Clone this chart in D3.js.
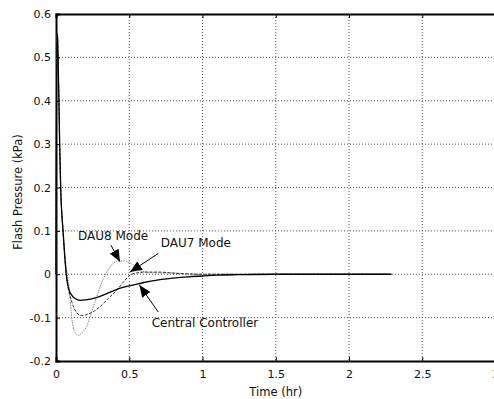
<!DOCTYPE html>
<html>
<head>
<meta charset="utf-8">
<script src="https://cdn.jsdelivr.net/npm/d3@7/dist/d3.min.js"></script>
<style>
  body { margin: 0; background: #fff; }
  svg { display: block; font-family: "DejaVu Sans", sans-serif; }
</style>
</head>
<body>
<svg width="494" height="399"></svg>
<script>

// Data (time in hr, pressure in kPa)
var dau8T = [0, 0.006, 0.01, 0.014, 0.02, 0.025, 0.032, 0.048, 0.065, 0.077, 0.086, 0.096, 0.107, 0.123, 0.14, 0.152, 0.17, 0.19, 0.21, 0.23, 0.255, 0.28, 0.3, 0.325, 0.346, 0.37, 0.39, 0.42, 0.46, 0.505, 0.53, 0.55, 0.573, 0.6, 0.64, 0.7, 0.8, 0.85, 0.9, 2.29];
var dau8V = [0, 0.555, 0.55, 0.5, 0.4, 0.3, 0.2, 0.1, 0.03, 0, -0.02, -0.055, -0.098, -0.129, -0.139, -0.141, -0.137, -0.13, -0.12, -0.1, -0.075, -0.05, -0.029, -0.01, 0.005, 0.017, 0.025, 0.03, 0.031, 0.026, 0.021, 0.015, 0.009, 0.006, 0.004, 0.003, 0.003, 0.002, 0, 0];

var dau7T = [0, 0.006, 0.01, 0.014, 0.02, 0.025, 0.032, 0.048, 0.06, 0.07, 0.085, 0.1, 0.12, 0.14, 0.16, 0.175, 0.2, 0.25, 0.3, 0.35, 0.414, 0.46, 0.505, 0.55, 0.62, 0.7, 0.755, 0.82, 0.9, 1.0, 2.29];
var dau7V = [0, 0.555, 0.55, 0.5, 0.4, 0.3, 0.2, 0.1, 0.04, 0, -0.035, -0.055, -0.075, -0.088, -0.094, -0.095, -0.094, -0.087, -0.075, -0.058, -0.037, -0.018, -0.002, 0.003, 0.005, 0.005, 0.004, 0.002, 0.001, 0, 0];

var centralT = [0, 0.006, 0.01, 0.014, 0.02, 0.025, 0.032, 0.048, 0.06, 0.07, 0.085, 0.107, 0.13, 0.164, 0.2, 0.25, 0.3, 0.35, 0.4, 0.45, 0.526, 0.6, 0.7, 0.8, 0.9, 1.0, 1.1, 1.25, 1.5, 2.29];
var centralV = [0, 0.555, 0.55, 0.5, 0.4, 0.3, 0.2, 0.1, 0.04, 0, -0.032, -0.048, -0.056, -0.06, -0.059, -0.056, -0.051, -0.044, -0.037, -0.031, -0.025, -0.019, -0.013, -0.009, -0.006, -0.004, -0.002, -0.001, 0, 0];

var xTicks = [0, 0.5, 1, 1.5, 2, 2.5, 3];
var xTickLabels = ["0", "0.5", "1", "1.5", "2", "2.5", "3"];
var yTicks = [-0.2, -0.1, 0, 0.1, 0.2, 0.3, 0.4, 0.5, 0.6];
var yTickLabels = ["-0.2", "-0.1", "0", "0.1", "0.2", "0.3", "0.4", "0.5", "0.6"];

// annotations: label position and arrow tail -> tip, in data units
var notes = [
  { text: "DAU8 Mode", tx: 0.15, ty: 0.078, x1: 0.375, y1: 0.067, x2: 0.437, y2: 0.029 },
  { text: "DAU7 Mode", tx: 0.715, ty: 0.062, x1: 0.698, y1: 0.048, x2: 0.505, y2: 0.005 },
  { text: "Central Controller", tx: 0.653, ty: -0.122, x1: 0.698, y1: -0.087, x2: 0.569, y2: -0.025 }
];

var svg = d3.select("svg");
var margin = { left: 56, top: 14 };
var w = 439.5, h = 347;

var x = d3.scaleLinear().domain([0, 3]).range([0, w]);
var y = d3.scaleLinear().domain([-0.2, 0.6]).range([h, 0]);

var g = svg.append("g").attr("transform", "translate(" + margin.left + "," + margin.top + ")");

// grid
g.append("g").selectAll("line").data(xTicks.slice(1)).enter().append("line")
  .attr("x1", function (d) { return x(d); }).attr("x2", function (d) { return x(d); })
  .attr("y1", 0).attr("y2", h)
  .style("stroke", "#555").style("stroke-dasharray", "1,2");
g.append("g").selectAll("line").data(yTicks.slice(1, -1)).enter().append("line")
  .attr("x1", 0).attr("x2", w)
  .attr("y1", function (d) { return y(d); }).attr("y2", function (d) { return y(d); })
  .style("stroke", "#555").style("stroke-dasharray", "1,2");

// axes, ticks pointing in
var xAxis = d3.axisBottom(x).tickValues(xTicks)
  .tickFormat(function (d, i) { return xTickLabels[i]; })
  .tickSize(-4).tickPadding(9);
var yAxis = d3.axisLeft(y).tickValues(yTicks)
  .tickFormat(function (d, i) { return yTickLabels[i]; })
  .tickSize(-4).tickPadding(5);

var gx = g.append("g").attr("transform", "translate(0," + h + ")").call(xAxis);
var gy = g.append("g").call(yAxis);
var gt = g.append("g").call(d3.axisTop(x).tickValues(xTicks).tickSize(-4).tickFormat(""));

[gx, gy, gt].forEach(function (a) {
  a.select(".domain").style("stroke", "#000").style("stroke-width", 2);
  a.selectAll(".tick line").style("stroke", "#000");
  a.selectAll("text").style("font-size", "11px").style("fill", "#111")
    .style("font-family", "DejaVu Sans");
});

// curves
var line = d3.line()
  .x(function (d) { return x(d[0]); })
  .y(function (d) { return y(d[1]); })
  .curve(d3.curveMonotoneX);

function pairs(t, v) { return t.map(function (d, i) { return [d, v[i]]; }); }

g.append("path").datum(pairs(dau8T, dau8V))
  .attr("d", line).style("fill", "none")
  .style("stroke", "#888").style("stroke-width", 1).style("stroke-dasharray", "1.5,1");
g.append("path").datum(pairs(dau7T, dau7V))
  .attr("d", line).style("fill", "none")
  .style("stroke", "#333").style("stroke-width", 1).style("stroke-dasharray", "3,1.5");
g.append("path").datum(pairs(centralT, centralV))
  .attr("d", line).style("fill", "none")
  .style("stroke", "#000").style("stroke-width", 1.3);

// arrows
svg.append("defs").append("marker")
  .attr("id", "head")
  .attr("markerUnits", "userSpaceOnUse")
  .attr("markerWidth", 12).attr("markerHeight", 10)
  .attr("refX", 12).attr("refY", 5)
  .attr("orient", "auto")
  .append("path").attr("d", "M0,0L12,5L0,10Z").style("fill", "#000");

g.selectAll(".arrow").data(notes).enter().append("line")
  .attr("class", "arrow")
  .attr("x1", function (d) { return x(d.x1); }).attr("y1", function (d) { return y(d.y1); })
  .attr("x2", function (d) { return x(d.x2); }).attr("y2", function (d) { return y(d.y2); })
  .style("stroke", "#000").style("stroke-width", 1)
  .attr("marker-end", "url(#head)");

g.selectAll(".note").data(notes).enter().append("text")
  .attr("class", "note")
  .attr("x", function (d) { return x(d.tx); })
  .attr("y", function (d) { return y(d.ty); })
  .style("font-size", "12px").style("fill", "#111")
  .text(function (d) { return d.text; });

// axis titles
svg.append("text")
  .attr("x", margin.left + w / 2).attr("y", 396)
  .attr("text-anchor", "middle")
  .style("font-size", "11.5px").style("fill", "#111")
  .text("Time (hr)");

svg.append("text")
  .attr("transform", "translate(22,192) rotate(-90)")
  .attr("text-anchor", "middle")
  .style("font-size", "11.5px").style("fill", "#111")
  .text("Flash Pressure (kPa)");

</script>
</body>
</html>
